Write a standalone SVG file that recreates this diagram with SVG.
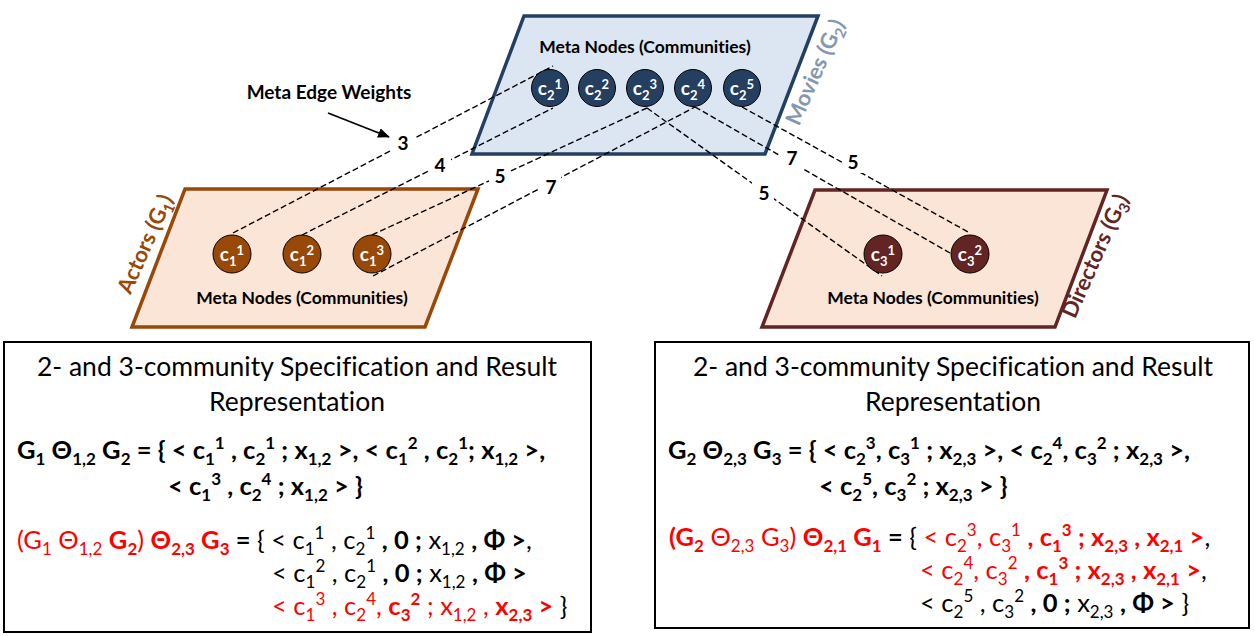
<svg xmlns="http://www.w3.org/2000/svg" width="1254" height="636" viewBox="0 0 1254 636">
<defs>
<marker id="arr" markerWidth="12" markerHeight="10" refX="11" refY="5" orient="auto" markerUnits="userSpaceOnUse"><path d="M0,0 L12,5 L0,10 z" fill="#000"/></marker>
<style>
text{font-family:Lato,"Liberation Sans",sans-serif;font-variant-ligatures:none}
.meta{font-weight:bold;font-size:17.5px;text-anchor:middle;fill:#000}
.nl{fill:#fff;font-weight:bold;font-size:19px;text-anchor:middle}
.nl .sb{font-size:13px;baseline-shift:-5px}
.nl .sp{font-size:13px;baseline-shift:6px}
.w{font-weight:bold;font-size:19px;text-anchor:middle;fill:#000}
.side{font-weight:bold;font-size:22px;text-anchor:middle}
.dash{fill:none;stroke:#000;stroke-width:1.4;stroke-dasharray:6,3}
.title{font-size:26.5px;text-anchor:middle;fill:#000}
.f{font-size:25.5px;fill:#000}
.b{font-weight:bold}
.r{fill:#ff0000}
.sb{font-size:17px;baseline-shift:-6px}
.sp{font-size:17px;baseline-shift:10px}
.box{fill:#fff;stroke:#000;stroke-width:2}
.nm{stroke:#000;stroke-width:1}
</style>
</defs>
<rect width="1254" height="636" fill="#fff"/>

<g id="actors">
<polygon points="185,189 478,189 425,327 132,327" fill="#fbe5d6" stroke="#984807" stroke-width="3.5"/>
<text class="side" fill="#984807" transform="translate(152,247) rotate(-66)">Actors (G<tspan font-size="15px" baseline-shift="-5px">1</tspan>)</text>
<text class="meta" x="302" y="304">Meta Nodes (Communities)</text>
</g>
<g id="movies">
<polygon points="524,16 818,16 765,154 472,154" fill="#dce6f2" stroke="#243f60" stroke-width="3.5"/>
<text class="side" fill="#8497b0" transform="translate(822,75) rotate(-66)">Movies (G<tspan font-size="15px" baseline-shift="-5px">2</tspan>)</text>
<text class="meta" x="645" y="53">Meta Nodes (Communities)</text>
</g>
<g id="directors">
<polygon points="815,190 1107,190 1055,327 762,327" fill="#fbe5d6" stroke="#632523" stroke-width="3.5"/>
<text class="side" fill="#632523" transform="translate(1102,259) rotate(-66)">Directors (G<tspan font-size="15px" baseline-shift="-5px">3</tspan>)</text>
<text class="meta" x="933" y="304">Meta Nodes (Communities)</text>
</g>

<g id="connectors">
<path class="dash" d="M233,233 L553,66"/>
<path class="dash" d="M302,235 L553,108"/>
<path class="dash" d="M372,235 L647,108"/>
<path class="dash" d="M373,276 L695,107"/>
<path class="dash" d="M647,108 L882,276"/>
<path class="dash" d="M695,107 L950,253"/>
<path class="dash" d="M742,107 L970,233"/>
<g fill="#fff">
<rect x="392" y="132" width="22" height="22"/>
<rect x="429" y="154" width="22" height="22"/>
<rect x="489" y="165" width="22" height="22"/>
<rect x="539" y="175" width="22" height="22"/>
<rect x="752" y="182" width="22" height="22"/>
<rect x="781" y="147" width="22" height="22"/>
<rect x="842" y="151" width="22" height="22"/>
</g>
<text class="w" x="403" y="150">3</text>
<text class="w" x="440" y="172">4</text>
<text class="w" x="500" y="183">5</text>
<text class="w" x="551" y="194">7</text>
<text class="w" x="764" y="200">5</text>
<text class="w" x="792" y="165">7</text>
<text class="w" x="853" y="169">5</text>
<text class="w" x="329" y="99">Meta Edge Weights</text>
<path d="M328,113 L389,137" stroke="#000" stroke-width="1.8" marker-end="url(#arr)"/>
</g>

<g id="c1_1"><circle class="nm" cx="232" cy="254" r="19" fill="#984807"/><text class="nl" x="232" y="261">c<tspan class="sb">1</tspan><tspan class="sp">1</tspan></text></g>
<g id="c1_2"><circle class="nm" cx="302" cy="254" r="19" fill="#984807"/><text class="nl" x="302" y="261">c<tspan class="sb">1</tspan><tspan class="sp">2</tspan></text></g>
<g id="c1_3"><circle class="nm" cx="372" cy="254" r="19" fill="#984807"/><text class="nl" x="372" y="261">c<tspan class="sb">1</tspan><tspan class="sp">3</tspan></text></g>

<g id="c2_1"><circle class="nm" cx="550" cy="88" r="18.5" fill="#243f60"/><text class="nl" x="550" y="95">c<tspan class="sb">2</tspan><tspan class="sp">1</tspan></text></g>
<g id="c2_2"><circle class="nm" cx="597" cy="88" r="18.5" fill="#243f60"/><text class="nl" x="597" y="95">c<tspan class="sb">2</tspan><tspan class="sp">2</tspan></text></g>
<g id="c2_3"><circle class="nm" cx="645" cy="88" r="18.5" fill="#243f60"/><text class="nl" x="645" y="95">c<tspan class="sb">2</tspan><tspan class="sp">3</tspan></text></g>
<g id="c2_4"><circle class="nm" cx="693" cy="88" r="18.5" fill="#243f60"/><text class="nl" x="693" y="95">c<tspan class="sb">2</tspan><tspan class="sp">4</tspan></text></g>
<g id="c2_5"><circle class="nm" cx="742" cy="88" r="18.5" fill="#243f60"/><text class="nl" x="742" y="95">c<tspan class="sb">2</tspan><tspan class="sp">5</tspan></text></g>

<g id="c3_1"><circle class="nm" cx="883" cy="254" r="19" fill="#632523"/><text class="nl" x="883" y="261">c<tspan class="sb">3</tspan><tspan class="sp">1</tspan></text></g>
<g id="c3_2"><circle class="nm" cx="970" cy="254" r="19" fill="#632523"/><text class="nl" x="970" y="261">c<tspan class="sb">3</tspan><tspan class="sp">2</tspan></text></g>

<g id="box_left">
<rect class="box" x="4" y="342" width="587" height="290"/>
<text class="title" x="297" y="376">2- and 3-community Specification and Result</text>
<text class="title" x="297" y="411">Representation</text>
<text class="f b" x="17" y="459">G<tspan class="sb">1</tspan> Θ<tspan class="sb">1,2</tspan> G<tspan class="sb">2</tspan> = { &lt; c<tspan class="sb">1</tspan><tspan class="sp">1</tspan> , c<tspan class="sb">2</tspan><tspan class="sp">1</tspan> ; x<tspan class="sb">1,2</tspan> &gt;, &lt; c<tspan class="sb">1</tspan><tspan class="sp">2</tspan> , c<tspan class="sb">2</tspan><tspan class="sp">1</tspan>; x<tspan class="sb">1,2</tspan> &gt;,</text>
<text class="f b" x="168" y="495">&lt; c<tspan class="sb">1</tspan><tspan class="sp">3</tspan> , c<tspan class="sb">2</tspan><tspan class="sp">4</tspan> ; x<tspan class="sb">1,2</tspan> &gt; }</text>
<text class="f" x="17" y="549"><tspan class="r">(G<tspan class="sb">1</tspan> Θ<tspan class="sb">1,2</tspan> <tspan class="b">G<tspan class="sb">2</tspan></tspan>) <tspan class="b">Θ<tspan class="sb">2,3</tspan> G<tspan class="sb">3</tspan></tspan></tspan><tspan class="b"> =</tspan> { &lt; c<tspan class="sb">1</tspan><tspan class="sp">1</tspan> , c<tspan class="sb">2</tspan><tspan class="sp">1</tspan> <tspan class="b">, 0 ;</tspan>  x<tspan class="sb">1,2</tspan> <tspan class="b">, Φ &gt;</tspan>,</text>
<text class="f" x="272" y="582">&lt; c<tspan class="sb">1</tspan><tspan class="sp">2</tspan> , c<tspan class="sb">2</tspan><tspan class="sp">1</tspan> <tspan class="b">, 0 ;</tspan>  x<tspan class="sb">1,2</tspan> <tspan class="b">, Φ &gt;</tspan></text>
<text class="f" x="272" y="615"><tspan class="r">&lt; c<tspan class="sb">1</tspan><tspan class="sp">3</tspan> , c<tspan class="sb">2</tspan><tspan class="sp">4</tspan>, <tspan class="b">c<tspan class="sb">3</tspan><tspan class="sp">2</tspan></tspan> ; x<tspan class="sb">1,2</tspan> , <tspan class="b">x<tspan class="sb">2,3</tspan> &gt;</tspan></tspan> }</text>
</g>

<g id="box_right">
<rect class="box" x="655" y="342" width="594" height="286"/>
<text class="title" x="953" y="376">2- and 3-community Specification and Result</text>
<text class="title" x="953" y="411">Representation</text>
<text class="f b" x="668" y="459">G<tspan class="sb">2</tspan> Θ<tspan class="sb">2,3</tspan> G<tspan class="sb">3</tspan> = { &lt; c<tspan class="sb">2</tspan><tspan class="sp">3</tspan>, c<tspan class="sb">3</tspan><tspan class="sp">1</tspan> ; x<tspan class="sb">2,3</tspan> &gt;, &lt; c<tspan class="sb">2</tspan><tspan class="sp">4</tspan>, c<tspan class="sb">3</tspan><tspan class="sp">2</tspan> ; x<tspan class="sb">2,3</tspan> &gt;,</text>
<text class="f b" x="819" y="495">&lt; c<tspan class="sb">2</tspan><tspan class="sp">5</tspan>, c<tspan class="sb">3</tspan><tspan class="sp">2</tspan> ; x<tspan class="sb">2,3</tspan> &gt; }</text>
<text class="f" x="669" y="546"><tspan class="r"><tspan class="b">(G<tspan class="sb">2</tspan></tspan> Θ<tspan class="sb">2,3</tspan> G<tspan class="sb">3</tspan>) <tspan class="b">Θ<tspan class="sb">2,1</tspan> G<tspan class="sb">1</tspan></tspan></tspan><tspan class="b"> =</tspan> { <tspan class="r">&lt; c<tspan class="sb">2</tspan><tspan class="sp">3</tspan>, c<tspan class="sb">3</tspan><tspan class="sp">1</tspan> <tspan class="b">, c<tspan class="sb">1</tspan><tspan class="sp">3</tspan> ; x<tspan class="sb">2,3</tspan> , x<tspan class="sb">2,1</tspan> &gt;</tspan></tspan>,</text>
<text class="f" x="920" y="579"><tspan class="r">&lt; c<tspan class="sb">2</tspan><tspan class="sp">4</tspan>, c<tspan class="sb">3</tspan><tspan class="sp">2</tspan> <tspan class="b">, c<tspan class="sb">1</tspan><tspan class="sp">3</tspan> ; x<tspan class="sb">2,3</tspan> , x<tspan class="sb">2,1</tspan> &gt;</tspan></tspan>,</text>
<text class="f" x="920" y="612">&lt; c<tspan class="sb">2</tspan><tspan class="sp">5</tspan> , c<tspan class="sb">3</tspan><tspan class="sp">2</tspan> <tspan class="b">, 0 ;</tspan>  x<tspan class="sb">2,3</tspan> <tspan class="b">, Φ &gt;</tspan> }</text>
</g>
</svg>
